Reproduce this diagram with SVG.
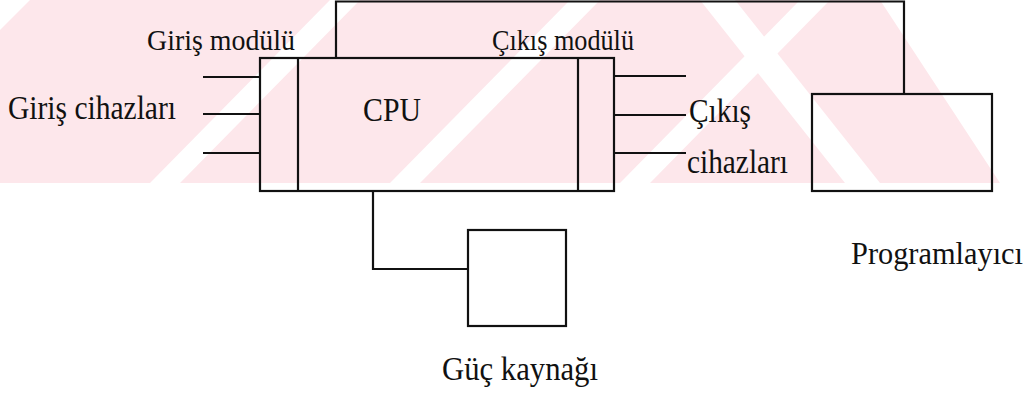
<svg xmlns="http://www.w3.org/2000/svg" width="1034" height="403" viewBox="0 0 1034 403">
<style>
.ln{stroke:#111;stroke-width:2.2;fill:none}
.bx{stroke:#111;stroke-width:2.2;fill:none}
.t{font-family:"Liberation Serif","Times New Roman",serif;fill:#111}
.wm{fill:#fde7eb}
.ws{fill:#ffffff}
</style>
<rect width="1034" height="403" fill="#ffffff"/>
<g id="watermark">
<polygon class="wm" points="0,30 30,0 880,0 1000,183 0,183"/>
<polygon class="ws" points="150,183 180,183 360,0 330,0"/>
<polygon class="ws" points="390,183 420,183 600,0 570,0"/>
<polygon class="ws" points="620,183 650,183 830,0 800,0"/>
<polygon class="ws" points="700,0 735,0 880,183 845,183"/>
</g>
<g id="connectors">
<polyline class="ln" points="336,58 336,1.5 904,1.5 904,94"/>
<polyline class="ln" points="373,191 373,269 468,269"/>
<line class="ln" x1="203" y1="77" x2="260" y2="77"/>
<line class="ln" x1="203" y1="114" x2="260" y2="114"/>
<line class="ln" x1="203" y1="153" x2="260" y2="153"/>
<line class="ln" x1="614" y1="76" x2="686" y2="76"/>
<line class="ln" x1="614" y1="115" x2="686" y2="115"/>
<line class="ln" x1="614" y1="153" x2="686" y2="153"/>
</g>
<g id="plc">
<rect class="bx" x="260" y="58" width="354" height="133"/>
<line class="ln" x1="298" y1="58" x2="298" y2="191"/>
<line class="ln" x1="578" y1="58" x2="578" y2="191"/>
<text class="t" x="363" y="121" font-size="33" textLength="58" lengthAdjust="spacingAndGlyphs">CPU</text>
</g>
<g id="giris-modulu"><text class="t" x="147" y="50" font-size="29" textLength="148" lengthAdjust="spacingAndGlyphs">Giriş modülü</text></g>
<g id="cikis-modulu"><text class="t" x="492" y="50" font-size="29" textLength="142" lengthAdjust="spacingAndGlyphs">Çıkış modülü</text></g>
<g id="giris-cihazlari"><text class="t" x="8" y="119" font-size="33" textLength="168" lengthAdjust="spacingAndGlyphs">Giriş cihazları</text></g>
<g id="cikis-cihazlari">
<text class="t" x="689" y="122" font-size="33" textLength="62" lengthAdjust="spacingAndGlyphs">Çıkış</text>
<text class="t" x="687" y="173" font-size="33" textLength="101" lengthAdjust="spacingAndGlyphs">cihazları</text>
</g>
<g id="programlayici">
<rect class="bx" x="812" y="94" width="180" height="97"/>
<text class="t" x="851" y="264" font-size="31" textLength="172" lengthAdjust="spacingAndGlyphs">Programlayıcı</text>
</g>
<g id="guc-kaynagi">
<rect class="bx" x="468" y="230" width="98" height="96"/>
<text class="t" x="442" y="380" font-size="33" textLength="156" lengthAdjust="spacingAndGlyphs">Güç kaynağı</text>
</g>
</svg>
